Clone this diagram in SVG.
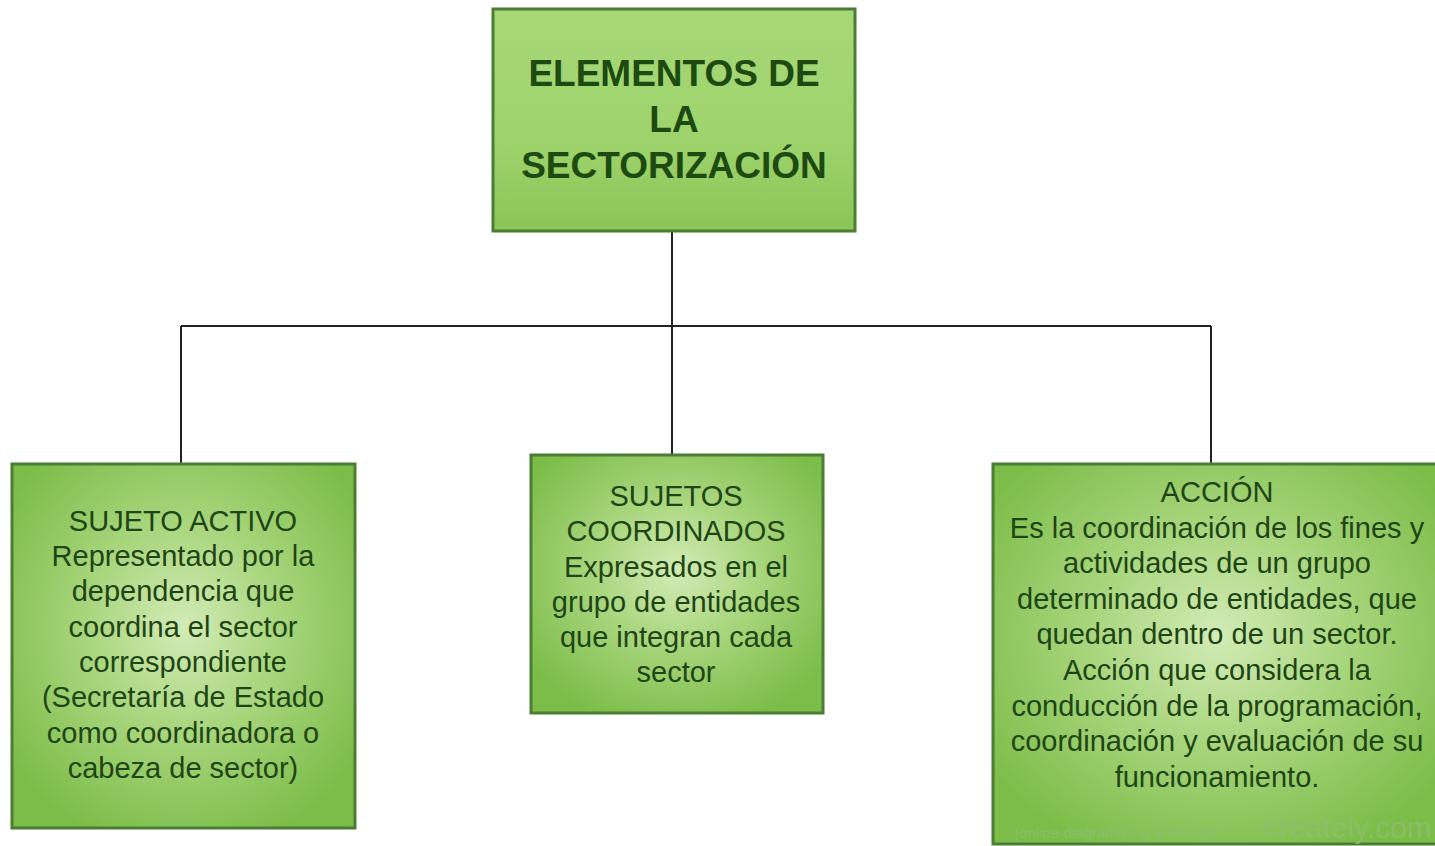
<svg xmlns="http://www.w3.org/2000/svg" width="1435" height="846" viewBox="0 0 1435 846">
<defs>
<linearGradient id="gTop" x1="0" y1="0" x2="0" y2="1">
<stop offset="0" stop-color="#a6d877"/>
<stop offset="0.6" stop-color="#9ed36c"/>
<stop offset="1" stop-color="#8cc556"/>
</linearGradient>
<radialGradient id="gBox" cx="0.5" cy="0.45" r="0.62">
<stop offset="0" stop-color="#d3ecb7"/>
<stop offset="0.45" stop-color="#a9d67e"/>
<stop offset="1" stop-color="#7cbd49"/>
</radialGradient>
<style>
.box{stroke:#4b7d35;stroke-width:3;}
.t{font-family:"Liberation Sans",Arial,sans-serif;font-size:29px;fill:#1f4514;text-anchor:middle;}
.title{font-family:"Liberation Sans",Arial,sans-serif;font-size:37px;font-weight:bold;fill:#1d4a10;text-anchor:middle;}
.conn{stroke:#222;stroke-width:2;fill:none;}
.wm{font-family:"Liberation Sans",Arial,sans-serif;fill:#8fbf70;opacity:0.8;}
</style>
</defs>
<rect width="1435" height="846" fill="#ffffff"/>
<g id="connectors">
<path class="conn" d="M672 232 V326 M181 326 H1211 M181 326 V463 M672 326 V454 M1211 326 V463"/>
</g>
<g id="node-title">
<rect class="box" x="493" y="9" width="362" height="222" fill="url(#gTop)"/>
<text class="title" x="674" y="86">ELEMENTOS DE</text>
<text class="title" x="674" y="132">LA</text>
<text class="title" x="674" y="178">SECTORIZACIÓN</text>
</g>
<g id="node-sujeto-activo">
<rect class="box" x="12" y="464" width="343" height="364" fill="url(#gBox)"/>
<text class="t" x="183" y="531">SUJETO ACTIVO</text>
<text class="t" x="183" y="566">Representado por la</text>
<text class="t" x="183" y="601">dependencia que</text>
<text class="t" x="183" y="637">coordina el sector</text>
<text class="t" x="183" y="672">correspondiente</text>
<text class="t" x="183" y="707">(Secretaría de Estado</text>
<text class="t" x="183" y="743">como coordinadora o</text>
<text class="t" x="183" y="778">cabeza de sector)</text>
</g>
<g id="node-sujetos-coordinados">
<rect class="box" x="531" y="455" width="292" height="258" fill="url(#gBox)"/>
<text class="t" x="676" y="506">SUJETOS</text>
<text class="t" x="676" y="541">COORDINADOS</text>
<text class="t" x="676" y="577">Expresados en el</text>
<text class="t" x="676" y="612">grupo de entidades</text>
<text class="t" x="676" y="647">que integran cada</text>
<text class="t" x="676" y="682">sector</text>
</g>
<g id="node-accion">
<rect class="box" x="993" y="464" width="450" height="380" fill="url(#gBox)"/>
<text class="t" x="1217" y="502">ACCIÓN</text>
<text class="t" x="1217" y="538">Es la coordinación de los fines y</text>
<text class="t" x="1217" y="573">actividades de un grupo</text>
<text class="t" x="1217" y="609">determinado de entidades, que</text>
<text class="t" x="1217" y="644">quedan dentro de un sector.</text>
<text class="t" x="1217" y="680">Acción que considera la</text>
<text class="t" x="1217" y="716">conducción de la programación,</text>
<text class="t" x="1217" y="751">coordinación y evaluación de su</text>
<text class="t" x="1217" y="787">funcionamiento.</text>
<text class="wm" x="1015" y="838" font-size="15">[online diagramming &amp; design]</text>
<text class="wm" x="1432" y="838" font-size="30" text-anchor="end">creately.com</text>
</g>
</svg>
